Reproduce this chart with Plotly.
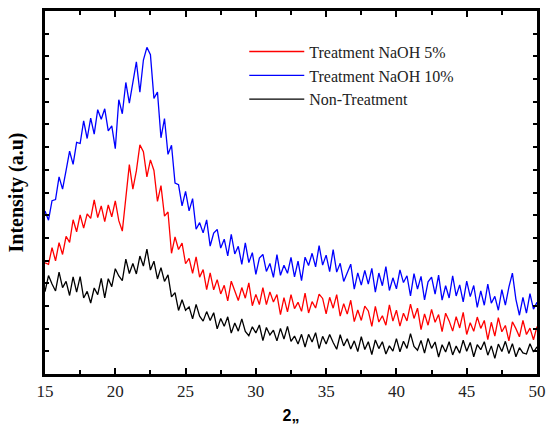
import plotly.graph_objects as go

# 2-theta sampling grid (degrees)
two_theta = [15 + 0.25 * i for i in range(141)]

naoh_5 = [
    4.90, 4.83, 5.57, 4.99, 5.79, 5.27, 6.07, 5.80, 6.80, 6.27,
    7.01, 6.43, 7.06, 6.86, 7.68, 6.89, 7.41, 6.72, 7.45, 6.93,
    7.63, 6.76, 6.30, 7.83, 9.23, 8.15, 8.95, 10.10, 9.80, 8.69,
    9.44, 8.97, 7.61, 8.30, 6.96, 7.14, 5.32, 6.04, 5.49, 5.77,
    4.86, 5.10, 4.44, 5.16, 4.27, 4.60, 3.72, 4.46, 3.71, 4.16,
    3.53, 3.91, 3.22, 4.09, 3.70, 3.24, 3.81, 3.34, 4.02, 3.01,
    3.51, 3.06, 3.81, 3.06, 3.62, 3.17, 3.50, 2.62, 3.37, 2.74,
    3.50, 2.88, 3.16, 2.76, 3.57, 2.69, 3.19, 2.91, 3.52, 3.33,
    2.65, 3.38, 2.90, 3.50, 2.55, 3.10, 2.64, 3.25, 2.31, 2.82,
    2.36, 2.99, 2.78, 2.10, 2.98, 2.29, 2.57, 2.15, 3.05, 2.33,
    2.81, 2.11, 2.68, 2.34, 3.08, 2.45, 2.90, 1.96, 2.65, 2.15,
    2.85, 2.28, 2.62, 1.87, 2.68, 2.34, 1.89, 2.53, 2.03, 2.72,
    1.74, 2.26, 1.88, 2.51, 2.01, 2.36, 1.51, 2.28, 1.67, 2.48,
    1.86, 2.14, 1.46, 2.30, 2.00, 1.64, 2.36, 1.74, 2.02, 1.51,
    2.09,
]

naoh_10 = [
    7.18, 6.78, 7.64, 7.69, 8.69, 8.15, 8.97, 9.82, 9.24, 10.21,
    10.16, 11.16, 10.38, 11.28, 10.57, 11.65, 11.23, 11.69, 10.72, 10.94,
    9.93, 12.09, 11.47, 12.85, 11.94, 12.91, 13.76, 12.42, 13.84, 14.40,
    14.07, 12.15, 12.43, 10.41, 11.26, 9.68, 10.08, 8.42, 8.34, 7.41,
    8.05, 7.19, 7.73, 6.38, 6.67, 6.22, 6.79, 5.64, 6.21, 6.37,
    5.55, 5.94, 5.21, 6.16, 5.29, 5.63, 4.83, 5.78, 4.91, 5.35,
    4.39, 5.11, 5.27, 4.52, 4.87, 4.26, 5.26, 4.35, 4.79, 4.44,
    5.14, 4.28, 4.98, 4.12, 5.15, 4.78, 5.32, 4.72, 5.66, 4.80,
    5.24, 4.51, 5.48, 4.49, 4.88, 4.08, 4.47, 4.84, 3.74, 4.46,
    3.92, 4.57, 3.96, 4.66, 3.61, 4.45, 3.89, 4.73, 3.68, 4.24,
    3.75, 4.59, 4.03, 4.33, 3.44, 4.42, 3.74, 4.30, 3.27, 4.06,
    4.27, 3.52, 4.36, 3.26, 3.89, 3.35, 4.33, 3.44, 3.93, 3.18,
    4.09, 3.41, 3.90, 2.94, 3.66, 3.03, 3.96, 3.12, 3.42, 2.81,
    3.72, 3.04, 3.83, 4.45, 3.29, 2.59, 3.38, 2.68, 3.54, 2.86,
    3.16,
]

non_treatment = [
    3.63, 4.34, 3.97, 3.66, 4.49, 3.81, 4.08, 3.46, 4.28, 3.61,
    4.29, 3.35, 3.64, 3.13, 3.79, 3.50, 4.21, 3.36, 4.20, 3.85,
    4.64, 4.32, 4.12, 5.06, 4.43, 4.87, 4.41, 5.20, 4.76, 5.50,
    4.58, 4.97, 4.19, 4.69, 4.08, 4.37, 3.40, 3.59, 2.80, 3.27,
    2.81, 2.96, 2.43, 3.07, 2.55, 2.33, 2.75, 2.36, 2.70, 1.99,
    2.45, 2.10, 2.52, 1.80, 2.25, 1.89, 2.43, 1.88, 1.69, 2.08,
    1.81, 2.16, 1.47, 2.05, 1.72, 1.93, 1.46, 2.01, 1.54, 2.10,
    1.44, 1.67, 1.32, 1.75, 1.19, 1.75, 1.41, 1.82, 1.12, 1.66,
    1.32, 1.74, 1.39, 1.09, 1.73, 1.24, 1.55, 1.10, 1.46, 0.99,
    1.65, 1.08, 1.42, 0.86, 1.50, 1.12, 1.42, 0.88, 1.24, 1.01,
    1.56, 0.98, 1.44, 1.13, 1.78, 1.22, 1.05, 1.48, 0.92, 1.57,
    1.13, 1.41, 0.75, 1.29, 0.97, 1.42, 0.84, 1.23, 0.92, 1.49,
    1.00, 1.39, 0.76, 1.29, 1.07, 1.42, 0.83, 1.24, 0.69, 1.32,
    0.99, 1.44, 0.90, 1.34, 0.76, 1.16, 0.93, 0.88, 1.33, 0.97,
    1.20,
]

series_names = ["Treatment NaOH 5%", "Treatment NaOH 10%", "Non-Treatment"]
series_values = [naoh_5, naoh_10, non_treatment]
series_colors = ["#ff0000", "#0000ff", "#000000"]

x_tick_vals = [15, 20, 25, 30, 35, 40, 45, 50]

fig = go.Figure()
for name, vals, col in zip(series_names, series_values, series_colors):
    fig.add_trace(go.Scatter(
        x=two_theta, y=vals, mode="lines", name=name,
        line=dict(color=col, width=1.3),
    ))

fig.update_layout(
    width=546, height=425,
    margin=dict(l=45, r=9, t=11, b=51, autoexpand=False),
    paper_bgcolor="white", plot_bgcolor="white",
    showlegend=True,
    legend=dict(
        x=0.405, y=0.935, xanchor="left", yanchor="top",
        bgcolor="rgba(0,0,0,0)",
        font=dict(family="Liberation Serif", size=16, color="#222"),
        itemwidth=55, tracegroupgap=0,
    ),
    font=dict(family="Liberation Serif", color="#222"),
)

fig.update_xaxes(
    range=[15, 50], tickvals=x_tick_vals, automargin=False,
    ticks="inside", ticklen=6, tickwidth=2, tickcolor="black",
    showline=True, linewidth=2.5, linecolor="black", mirror="ticks",
    showgrid=False, zeroline=False,
    tickfont=dict(family="Liberation Serif", size=17, color="#222"),
    minor=dict(dtick=2.5, ticks="inside", ticklen=4, tickwidth=1.5, tickcolor="black", showgrid=False),
    title=dict(text="<b>2„</b>", font=dict(family="Liberation Sans", size=16, color="black"), standoff=10),
)
fig.update_yaxes(
    range=[0, 16], dtick=1, automargin=False,
    ticks="inside", ticklen=4, tickwidth=1.5, tickcolor="black",
    showticklabels=False,
    showline=True, linewidth=2.5, linecolor="black", mirror="ticks",
    showgrid=False, zeroline=False,
    title=dict(text="<b>Intensity (a.u)</b>", font=dict(family="Liberation Serif", size=20, color="black"), standoff=14),
)

fig.write_html("out.html")
